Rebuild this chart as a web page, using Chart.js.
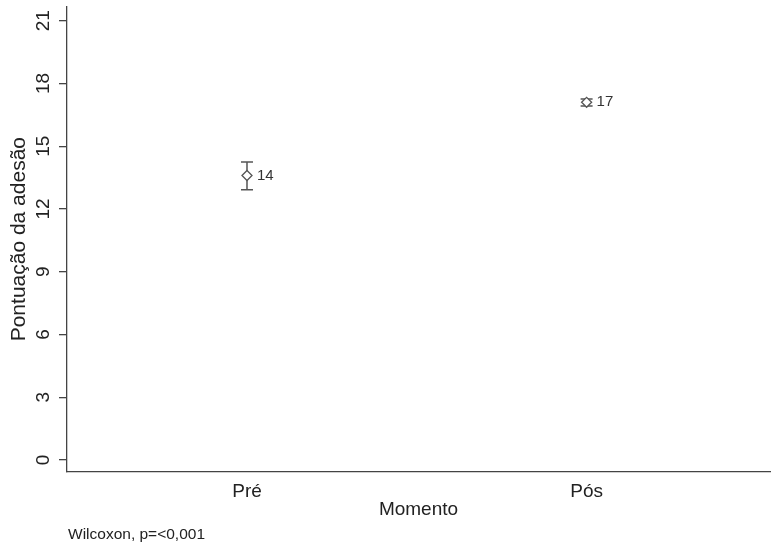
<!DOCTYPE html>
<html>
<head>
<meta charset="utf-8">
<script src="https://cdn.jsdelivr.net/npm/chart.js@4.4.1/dist/chart.umd.min.js"></script>
<style>
  html, body { margin: 0; padding: 0; background: #ffffff; }
  #wrap { width: 778px; height: 554px; position: relative; }
</style>
</head>
<body>
<div id="wrap"><canvas id="chart" width="778" height="554"></canvas></div>
<script>
// Adherence score by moment: mean with 95% CI
const categories = ['Pré', 'Pós'];
const means = [13.6, 17.1];
const ciLower = [12.92, 16.93];
const ciUpper = [14.25, 17.26];
const yTicks = [0, 3, 6, 9, 12, 15, 18, 21];
const xTitle = 'Momento';
const yTitle = 'Pontuação da adesão';
const note = 'Wilcoxon, p=<0,001';

const FONT = "'Liberation Sans', Arial, Helvetica, sans-serif";
const AXIS = '#444444';
const MARK = '#555555';
const TEXT = '#222222';

const points = categories.map((c, i) => ({ x: i + 1, y: means[i] }));

// Draws the confidence interval whiskers with caps, using the chart scales
const errorBars = {
  id: 'errorBars',
  beforeDatasetsDraw(chart) {
    const { ctx, scales: { x, y } } = chart;
    ctx.save();
    ctx.strokeStyle = MARK;
    ctx.lineWidth = 1.5;
    categories.forEach((c, i) => {
      const px = x.getPixelForValue(i + 1);
      const top = y.getPixelForValue(ciUpper[i]);
      const bot = y.getPixelForValue(ciLower[i]);
      const cap = 6;
      ctx.beginPath();
      ctx.moveTo(px, top); ctx.lineTo(px, bot);
      ctx.moveTo(px - cap, top); ctx.lineTo(px + cap, top);
      ctx.moveTo(px - cap, bot); ctx.lineTo(px + cap, bot);
      ctx.stroke();
    });
    ctx.restore();
  },
  afterDatasetsDraw(chart) {
    const { ctx, scales: { x, y } } = chart;
    ctx.save();
    ctx.fillStyle = '#333333';
    ctx.font = '15px ' + FONT;
    ctx.textAlign = 'left';
    ctx.textBaseline = 'middle';
    categories.forEach((c, i) => {
      const px = x.getPixelForValue(i + 1);
      const py = y.getPixelForValue(means[i]);
      ctx.fillText(String(Math.round(means[i])), px + 10, py);
    });
    ctx.restore();
  },
  afterDraw(chart) {
    const { ctx, chartArea } = chart;
    ctx.save();
    ctx.fillStyle = TEXT;
    ctx.font = '15.5px ' + FONT;
    ctx.textAlign = 'left';
    ctx.textBaseline = 'middle';
    ctx.fillText(note, chartArea.left + 1, 535);
    ctx.restore();
  }
};

new Chart(document.getElementById('chart'), {
  type: 'scatter',
  data: {
    datasets: [{
      data: points,
      pointStyle: 'rectRot',
      pointRadius: 5,
      pointHoverRadius: 5,
      borderColor: MARK,
      backgroundColor: '#ffffff',
      borderWidth: 1.3
    }]
  },
  options: {
    responsive: false,
    animation: false,
    events: [],
    layout: { padding: { left: 0, right: 8, top: 4, bottom: 32 } },
    plugins: { legend: { display: false }, tooltip: { enabled: false } },
    scales: {
      x: {
        type: 'linear',
        min: 0.47,
        max: 2.54,
        afterBuildTicks(scale) { scale.ticks = categories.map((c, i) => ({ value: i + 1 })); },
        afterFit(scale) { scale.height = 50; scale.paddingLeft = 0; scale.paddingRight = 0; },
        ticks: {
          autoSkip: false,
          maxRotation: 0,
          padding: 0,
          color: TEXT,
          font: { family: FONT, size: 19 },
          callback: (v) => categories[v - 1]
        },
        grid: { display: false },
        border: { display: true, color: AXIS, width: 1.3 },
        title: {
          display: true,
          text: xTitle,
          color: TEXT,
          font: { family: FONT, size: 19 },
          padding: { top: 0, bottom: 1 }
        }
      },
      y: {
        type: 'linear',
        min: -0.571,
        max: 21.69,
        afterBuildTicks(scale) { scale.ticks = yTicks.map(v => ({ value: v })); },
        afterFit(scale) { scale.width = 67; scale.paddingTop = 0; scale.paddingBottom = 0; },
        ticks: {
          minRotation: 90,
          maxRotation: 90,
          crossAlign: 'center',
          padding: 5,
          color: TEXT,
          font: { family: FONT, size: 19 }
        },
        grid: { drawOnChartArea: false, drawTicks: true, tickLength: 8, color: AXIS, lineWidth: 1.3 },
        border: { display: true, color: AXIS, width: 1.3 },
        title: {
          display: true,
          text: yTitle,
          color: TEXT,
          font: { family: FONT, size: 21 },
          padding: { top: 7, bottom: 0 }
        }
      }
    }
  },
  plugins: [errorBars]
});
</script>
</body>
</html>
